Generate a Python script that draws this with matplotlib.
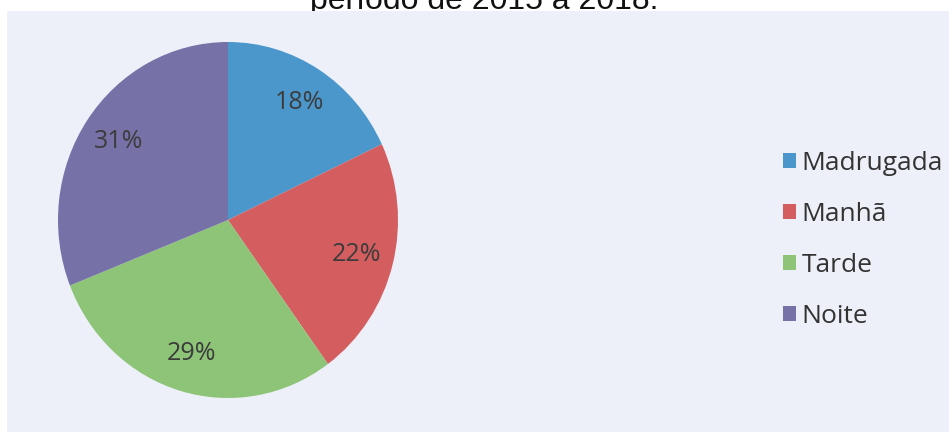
import matplotlib
matplotlib.use("Agg")
import matplotlib.pyplot as plt
from matplotlib.patches import Rectangle

labels = ["Madrugada", "Manhã", "Tarde", "Noite"]
values = [18, 22, 29, 31]
colors = ["#4b97cb", "#d45d5f", "#8dc477", "#7671a7"]
title = "período de 2015 a 2018."

W, H = 949, 432
fig = plt.figure(figsize=(W / 100, H / 100), dpi=100)
fig.patch.set_facecolor("white")

# title, mostly cut off at the top of the scan
fig.text(484 / W, 1 - 9 / H, title, ha="center", va="baseline",
         fontsize=23, family="Liberation Sans", color="#111111", zorder=1)

# scanned page background covers the lower part of the title
fig.patches.append(Rectangle((7 / W, 0), 1, 1 - 11 / H, transform=fig.transFigure,
                             facecolor="#eef0f9", edgecolor="none", zorder=2))

ax = fig.add_axes([58 / W, 34 / H, 340 / W, 356 / H])
ax.set_zorder(5)
wedges, texts, autotexts = ax.pie(values, colors=colors, startangle=90, counterclock=False,
                                  autopct="%d%%", pctdistance=0.78,
                                  textprops=dict(fontsize=18, color="#3c3c3c", family="Open Sans"))
ax.set_aspect("auto")
ax.set_xlim(-1, 1)
ax.set_ylim(-1, 1)
ax.axis("off")

leg = fig.legend(wedges, labels, loc="center left", bbox_to_anchor=(783 / W, 1 - 240 / H),
                 frameon=False, borderpad=0, borderaxespad=0,
                 handlelength=0.5, handleheight=0.5, handletextpad=0.2,
                 labelspacing=0.98, prop=dict(family="Open Sans", size=19))
for t in leg.get_texts():
    t.set_color("#333333")
leg.set_zorder(6)

fig.savefig("out.png", dpi=100)
